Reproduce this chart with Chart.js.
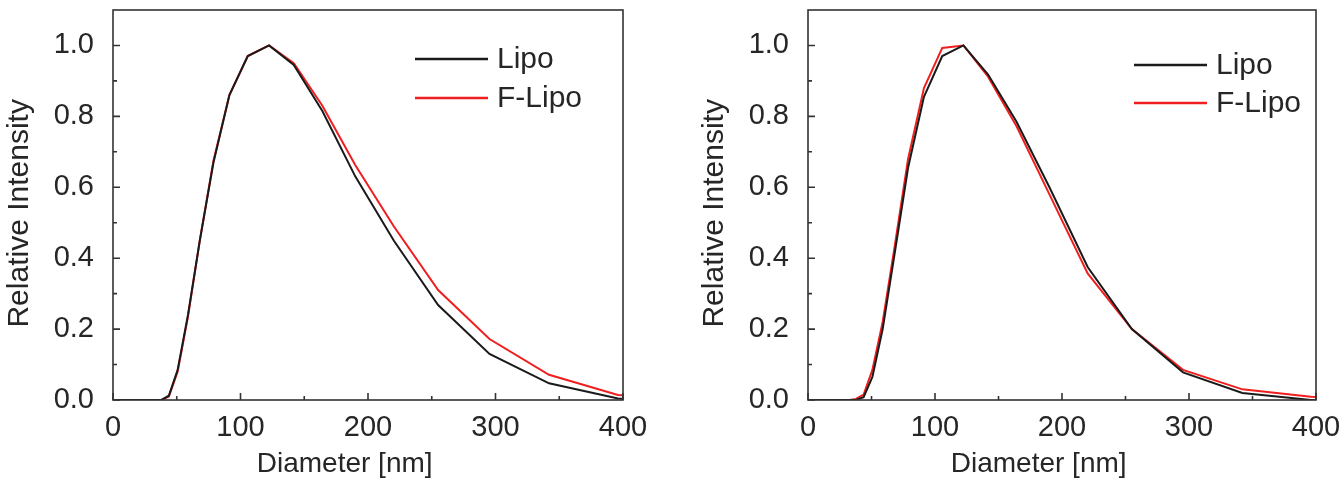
<!DOCTYPE html>
<html>
<head>
<meta charset="utf-8">
<script src="https://cdn.jsdelivr.net/npm/chart.js@4"></script>
<style>
  html, body { margin: 0; padding: 0; background: #fff; }
  body { width: 1341px; height: 484px; position: relative; overflow: hidden; }
  .panel { position: absolute; top: 0; height: 484px; }
  #leftBox { left: 0; width: 660px; }
  #rightBox { left: 695px; width: 646px; }
</style>
</head>
<body>
<div class="panel" id="leftBox"><canvas id="leftChart"></canvas></div>
<div class="panel" id="rightBox"><canvas id="rightChart"></canvas></div>
<script>
// diámetros de los bins (nm)
const diameters = [0, 32.7, 37.8, 43.8, 50.7, 58.8, 68.1, 78.8, 91.3, 105.7, 122.4, 141.8, 164.2, 190.1, 220.2, 255.0, 295.3, 342.0, 396.1, 458.7];

// panel izquierdo
const leftLipo  = [0, 0, 0, 0.012, 0.085, 0.24, 0.45, 0.67, 0.86, 0.97, 1.0, 0.945, 0.815, 0.63, 0.45, 0.268, 0.13, 0.047, 0.004, 0];
const leftFLipo = [0, 0, 0, 0.01, 0.08, 0.235, 0.45, 0.675, 0.86, 0.97, 1.0, 0.95, 0.83, 0.662, 0.49, 0.31, 0.172, 0.071, 0.014, 0];

// panel derecho
const rightLipo  = [0, 0, 0, 0.008, 0.065, 0.2, 0.41, 0.655, 0.855, 0.97, 1.0, 0.918, 0.785, 0.6, 0.375, 0.2, 0.078, 0.02, 0.0, 0];
const rightFLipo = [0, 0, 0.003, 0.015, 0.085, 0.22, 0.43, 0.68, 0.88, 0.993, 1.0, 0.912, 0.772, 0.58, 0.357, 0.2, 0.085, 0.03, 0.009, 0];

const seriesNames = ["Lipo", "F-Lipo"];
const xTicks = [0, 100, 200, 300, 400];
const yTicks = [0.0, 0.2, 0.4, 0.6, 0.8, 1.0];

const FONT = "'Liberation Sans', Arial, sans-serif";
const TEXT = "#262626";
const FRAME = "#333";
const COLORS = ["#1a1a1a", "#f01e1e"];

function toPoints(ys) {
  return diameters.map((d, i) => ({ x: d, y: ys[i] }));
}

// marco y ticks hacia adentro
const framePlugin = {
  id: "frame",
  afterDatasetsDraw(chart) {
    const { ctx, chartArea: a, scales } = chart;
    ctx.save();
    ctx.strokeStyle = FRAME;
    ctx.lineWidth = 1.6;
    ctx.strokeRect(a.left, a.top, a.right - a.left, a.bottom - a.top);
    ctx.beginPath();
    scales.x.ticks.forEach(t => {
      const px = scales.x.getPixelForValue(t.value);
      const len = xTicks.includes(Math.round(t.value)) ? 7 : 4;
      ctx.moveTo(px, a.bottom);
      ctx.lineTo(px, a.bottom - len);
    });
    scales.y.ticks.forEach(t => {
      if (t.value > 1.05) return;
      const py = scales.y.getPixelForValue(t.value);
      const major = yTicks.some(v => Math.abs(v - t.value) < 1e-6);
      const len = major ? 7 : 4;
      ctx.moveTo(a.left, py);
      ctx.lineTo(a.left + len, py);
    });
    ctx.stroke();
    ctx.restore();
  }
};

// leyenda dentro del área
const legendPlugin = {
  id: "lineLegend",
  afterDraw(chart, args, opts) {
    const { ctx, chartArea: a } = chart;
    ctx.save();
    ctx.font = "30px " + FONT;
    ctx.textBaseline = "middle";
    chart.data.datasets.forEach((ds, i) => {
      const y = a.top + opts.top + i * opts.gap;
      const x = a.left + opts.left;
      ctx.strokeStyle = ds.borderColor;
      ctx.lineWidth = 2.5;
      ctx.beginPath();
      ctx.moveTo(x, y);
      ctx.lineTo(x + 73, y);
      ctx.stroke();
      ctx.fillStyle = TEXT;
      ctx.fillText(ds.label, x + 82, y + 1);
    });
    ctx.restore();
  }
};

function makeChart(canvasId, lipo, flipo, padRight, legendPos) {
  return new Chart(document.getElementById(canvasId), {
    type: "line",
    data: {
      datasets: [lipo, flipo].map((vals, i) => ({
        label: seriesNames[i],
        data: toPoints(vals),
        borderColor: COLORS[i],
        borderWidth: 2,
        pointRadius: 0,
        tension: 0,
        fill: false
      }))
    },
    options: {
      responsive: true,
      maintainAspectRatio: false,
      animation: false,
      layout: { padding: { top: 10, right: padRight, left: 0, bottom: 0 } },
      plugins: {
        legend: { display: false },
        tooltip: { enabled: false },
        lineLegend: legendPos
      },
      scales: {
        x: {
          type: "linear",
          min: 0,
          max: 400,
          grid: { display: false },
          border: { display: false },
          ticks: {
            stepSize: 50,
            autoSkip: false,
            maxRotation: 0,
            padding: 3,
            color: TEXT,
            font: { family: FONT, size: 29 },
            callback: v => xTicks.includes(v) ? String(v) : ""
          },
          title: {
            display: true,
            // espacios finales: el título está algo a la izquierda del centro
            text: "Diameter [nm]      ",
            color: TEXT,
            font: { family: FONT, size: 28 },
            padding: { top: 0, bottom: 3 }
          },
          afterFit(scale) {
            scale.height = 84;
            scale.paddingLeft = 0;
            scale.paddingRight = 0;
          }
        },
        y: {
          min: 0,
          max: 1.1,
          grid: { display: false },
          border: { display: false },
          ticks: {
            stepSize: 0.1,
            autoSkip: false,
            padding: 11,
            color: TEXT,
            font: { family: FONT, size: 29 },
            callback: v => yTicks.some(t => Math.abs(t - v) < 1e-6) ? v.toFixed(1) : ""
          },
          title: {
            display: true,
            text: "Relative Intensity  ",
            color: TEXT,
            font: { family: FONT, size: 30 },
            padding: { top: 2, bottom: 0 }
          },
          afterFit(scale) {
            scale.width = 113;
            scale.paddingTop = 0;
            scale.paddingBottom = 0;
          }
        }
      }
    },
    plugins: [framePlugin, legendPlugin]
  });
}

makeChart("leftChart", leftLipo, leftFLipo, 37, { left: 302, top: 49, gap: 39 });
makeChart("rightChart", rightLipo, rightFLipo, 25, { left: 326, top: 55, gap: 38 });
</script>
</body>
</html>
